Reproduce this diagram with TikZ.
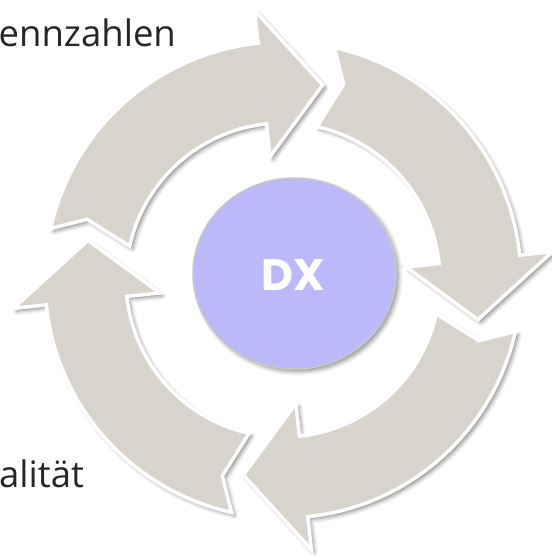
\documentclass[tikz,border=0pt]{standalone}
\usepackage{fontspec}
\setmainfont{Open Sans}
\newfontfamily\dxfont{Poppins}
\usetikzlibrary{shadows.blur}
\usetikzlibrary{shapes.geometric}
\definecolor{arrowfill}{RGB}{216,211,205}
\definecolor{dxfill}{RGB}{187,185,250}
\definecolor{dxline}{RGB}{200,200,200}
\definecolor{labeltext}{RGB}{38,38,38}
\tikzset{
  cyclearrow/.style={fill=arrowfill, draw=white, line width=3.5pt, line join=miter,
    blur shadow={shadow xshift=3pt, shadow yshift=-3pt, shadow blur radius=4pt, shadow opacity=45}},
  centerdisc/.style={ellipse, minimum width=203pt, minimum height=191pt, inner sep=0pt,
    fill=dxfill, draw=dxline, line width=1.5pt,
    blur shadow={shadow xshift=3pt, shadow yshift=-3pt, shadow blur radius=4pt, shadow opacity=40}},
  sidelabel/.style={text=labeltext, font=\fontsize{36.5}{40}\selectfont, inner sep=0pt}
}
\begin{document}
\begin{tikzpicture}[x=1pt,y=1pt]
\useasboundingbox (0,0) rectangle (551,556);
\begin{scope}[shift={(283,276)}]
\foreach \T [evaluate=\T as \B using \T-71.5, evaluate=\T as \P using \T-89, evaluate=\T as \N using \T-4.7] in {167.5,77.5,-12.5,-102.5}{
  \draw[cyclearrow] (\T:238) arc[start angle=\T, end angle=\B, radius=238]
    -- (\B:271) -- (\P:199) -- (\B:124) -- (\B:157)
    arc[start angle=\B, end angle=\T, radius=157]
    -- (\N:205) -- cycle;
}
\end{scope}
\node[centerdisc] (dx) at (294.5,282.5) {};
\node[text=white, font=\dxfont\bfseries\fontsize{44}{48}\selectfont, inner sep=0pt] (dxlabel) at (293.5,281) {DX};
\node[sidelabel, anchor=base west] (kpi) at (-1.5,509) {ennzahlen};
\node[sidelabel, anchor=base west] (qual) at (-1,68) {alität};
\end{tikzpicture}
\end{document}
